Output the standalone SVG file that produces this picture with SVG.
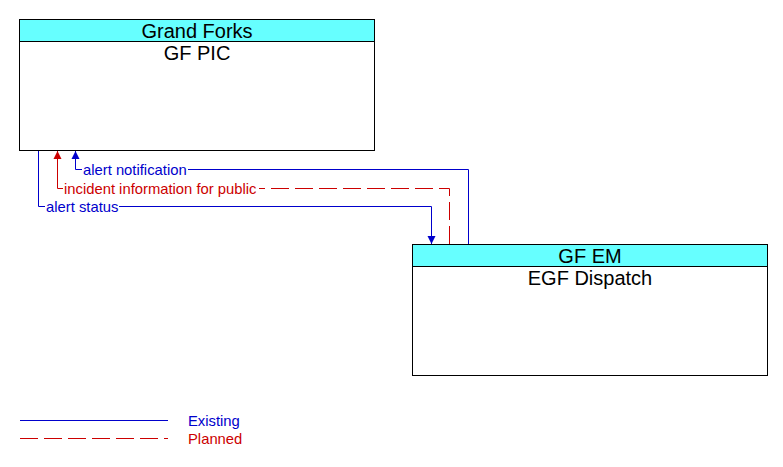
<svg xmlns="http://www.w3.org/2000/svg" width="783" height="467" viewBox="0 0 783 467">
<style>
.box{fill:#fff;stroke:#000;stroke-width:1}
.hdr{fill:#66FFFF;stroke:#000;stroke-width:1}
.t{font-family:"Liberation Sans",Arial,sans-serif;font-size:20px;fill:#000;text-anchor:middle}
.lbl{font-family:"Liberation Sans",Arial,sans-serif;font-size:14.8px}
.ex{fill:none;stroke:#0000CC;stroke-width:1}
.pl{fill:none;stroke:#CC0000;stroke-width:1;stroke-dasharray:18 6}
</style>
<defs>
<marker id="ab" markerWidth="9" markerHeight="9" refX="8" refY="4.5" orient="auto" markerUnits="userSpaceOnUse"><path d="M0,0.5 L8,4.5 L0,8.5 Z" fill="#0000CC"/></marker>
<marker id="ar" markerWidth="9" markerHeight="9" refX="8" refY="4.5" orient="auto" markerUnits="userSpaceOnUse"><path d="M0,0.5 L8,4.5 L0,8.5 Z" fill="#CC0000"/></marker>
</defs>
<rect width="783" height="467" fill="#fff"/>
<g id="gfpic">
<rect class="box" x="19.5" y="19.5" width="355" height="131"/>
<rect class="hdr" x="19.5" y="19.5" width="355" height="22"/>
<text class="t" x="197" y="38">Grand Forks</text>
<text class="t" x="197" y="60">GF PIC</text>
</g>
<g id="gfem">
<rect class="box" x="412.5" y="244.5" width="355" height="131"/>
<rect class="hdr" x="412.5" y="244.5" width="355" height="22"/>
<text class="t" x="590" y="263">GF EM</text>
<text class="t" x="590" y="285">EGF Dispatch</text>
</g>
<g id="connectors">
<path class="ex" d="M468.5,244 V169.5 H188"/>
<path class="ex" d="M82,169.5 H75.5 V151" marker-end="url(#ab)"/>
<text class="lbl" x="83" y="175" fill="#0000CC">alert notification</text>
<path class="pl" d="M449.5,244 V188.5 H259"/>
<path class="ex" style="stroke:#CC0000" d="M63,188.5 H57.5 V151" marker-end="url(#ar)"/>
<text class="lbl" x="64" y="194" fill="#CC0000">incident information for public</text>
<path class="ex" d="M38.5,151 V206.5 H45"/>
<path class="ex" d="M119,206.5 H431.5 V244" marker-end="url(#ab)"/>
<text class="lbl" x="46" y="212" fill="#0000CC">alert status</text>
</g>
<g id="legend">
<line class="ex" x1="20" y1="420.5" x2="168" y2="420.5"/>
<line class="pl" x1="20" y1="438.5" x2="168" y2="438.5"/>
<text class="lbl" x="188" y="426" fill="#0000CC">Existing</text>
<text class="lbl" x="188" y="444" fill="#CC0000">Planned</text>
</g>
</svg>
